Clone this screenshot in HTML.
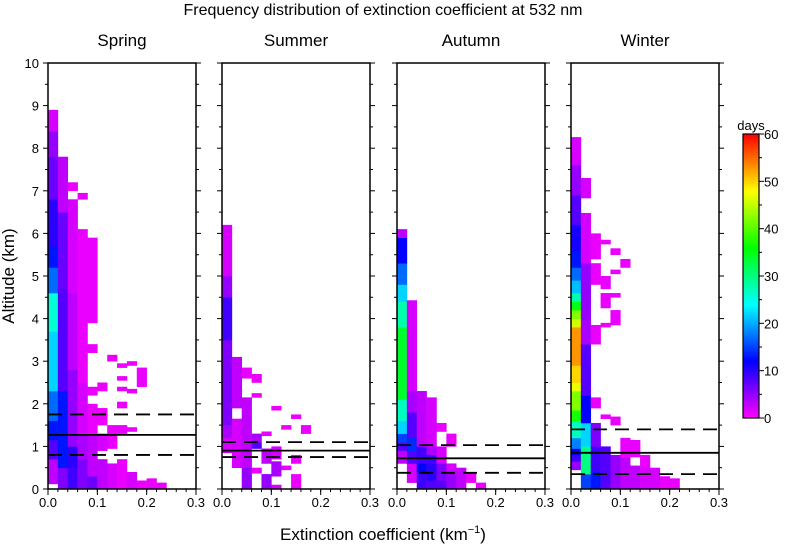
<!DOCTYPE html>
<html><head><meta charset="utf-8"><style>
body{margin:0;background:#fff;}
svg{display:block;font-family:"Liberation Sans",sans-serif;}
</style></head><body>
<svg id="chart" width="785" height="545" viewBox="0 0 785 545" xmlns="http://www.w3.org/2000/svg">
<text x="383" y="15" text-anchor="middle" font-size="16">Frequency distribution of extinction coefficient at 532 nm</text>
<text x="383" y="540" text-anchor="middle" font-size="17">Extinction coefficient (km<tspan dy="-7" font-size="11">−1</tspan><tspan dy="7">)</tspan></text>
<text transform="translate(14,276) rotate(-90)" text-anchor="middle" font-size="17">Altitude (km)</text>
<g id="panels"></g>
<g id="cbar"></g>
</svg>
<script>
const seasons=["Spring","Summer","Autumn","Winter"];
const xTicks=[0,0.1,0.2,0.3];
const yTicks=[0,1,2,3,4,5,6,7,8,9,10];
const cbTicks=[0,10,20,30,40,50,60];
const binW=0.02;
// per-season columns: [colIndex, zStart, zEnd, days]
const springCells=[
[0,0.12,0.7,3],[0,0.7,1.15,8],[0,1.15,1.6,13],[0,1.6,2.3,17],[0,2.3,3.7,22],[0,3.7,4.6,26],[0,4.6,5.2,17],[0,5.2,5.7,13],[0,5.7,6.8,10],[0,6.8,7.8,7],[0,7.8,8.4,5],[0,8.4,8.9,2],
[1,0,0.5,6],[1,0.5,2.3,13],[1,2.3,4.7,8],[1,4.7,6.5,7],[1,6.5,7.8,3],
[2,0,0.5,9],[2,0.5,1.0,10],[2,1.0,2.8,5],[2,2.8,4.6,3],[2,4.6,6.8,2],[2,7.0,7.2,1],
[3,0,0.7,6],[3,0.7,1.3,4],[3,1.3,2.5,2],[3,2.5,4.0,1],[3,4.0,6.1,1],[3,6.8,6.95,1],
[4,0,0.3,7],[4,0.3,0.7,3],[4,0.7,1.3,3],[4,1.3,2.0,1],[4,2.2,2.4,1],[4,3.2,3.4,1],[4,3.9,5.9,1],
[5,0,0.7,3],[5,0.9,1.3,2],[5,1.5,1.9,1],[5,2.3,2.5,1],
[6,0,0.6,2],[6,0.95,1.5,1],[6,3.0,3.15,1],
[7,0,0.7,1],[7,1.3,1.5,1],[7,1.9,2.05,1],[7,2.3,2.4,1],[7,2.55,2.65,1],[7,2.85,2.95,1],
[8,0,0.4,2],[8,1.35,1.45,1],[8,2.25,2.35,1],[8,2.9,3.0,1],
[9,0,0.2,1],[9,2.4,2.85,1],
[10,0,0.25,1],[11,0,0.15,1]];
const summerCells=[
[0,0.85,1.2,2],[0,1.2,1.5,4],[0,1.5,3.5,6],[0,3.5,4.5,9],[0,4.5,5.0,5],[0,5.0,6.2,2],
[1,0.5,1.65,2],[1,1.9,3.1,3],
[2,0,0.5,5],[2,0.5,2.15,3],[2,2.6,2.85,1],
[3,0.95,1.1,8],[3,1.1,1.3,4],[3,2.15,2.25,1],[3,2.5,2.7,1],[3,0.37,0.5,1],
[4,1.25,1.35,1],[4,0.6,0.95,3],[4,0,0.35,5],
[5,1.85,1.95,1],[5,0.7,1.0,2],[5,0.3,0.65,4],[5,0,0.1,2],
[6,1.4,1.5,1],[6,0.45,0.55,1],
[7,1.65,1.75,1],[7,0.6,0.8,1],[7,0,0.35,1],
[8,1.3,1.5,1]];
const autumnCells=[
[0,0.6,0.9,3],[0,0.9,1.1,8],[0,1.1,1.3,15],[0,1.3,1.6,22],[0,1.6,2.1,27],[0,2.1,3.8,34],[0,3.8,4.4,28],[0,4.4,4.8,22],[0,4.8,5.3,17],[0,5.3,5.9,12],[0,5.9,6.1,3],
[1,0.15,0.6,2],[1,0.6,0.9,8],[1,0.9,1.2,14],[1,1.2,1.8,8],[1,1.8,2.3,4],[1,2.3,4.43,2],
[2,0,0.4,9],[2,0.4,0.6,12],[2,0.6,1.0,9],[2,1.0,2.3,3],
[3,0,0.2,8],[3,0.2,0.6,10],[3,0.6,0.8,9],[3,0.8,1.0,4],[3,1.0,2.15,2],
[4,0,0.2,8],[4,0.2,0.6,6],[4,0.6,1.0,2],[4,1.35,1.55,1],
[5,0,0.37,5],[5,0.37,0.6,2],[5,1.0,1.3,1],
[6,0,0.5,3],[7,0.15,0.37,1],[8,0,0.15,1]];
const winterCells=[
[0,0.45,0.65,5],[0,0.65,0.8,9],[0,0.8,0.95,12],[0,0.95,1.2,18],[0,1.2,1.6,27],[0,1.6,1.85,37],[0,1.85,2.3,42],[0,2.3,2.5,47],[0,2.5,2.9,50],[0,2.9,3.8,53],[0,3.8,4.0,46],[0,4.0,4.2,42],[0,4.2,4.4,35],[0,4.4,4.6,28],[0,4.6,4.9,21],[0,4.9,5.2,17],[0,5.2,5.6,13],[0,5.6,6.2,11],[0,6.2,6.9,8],[0,6.9,7.6,5],[0,7.6,8.26,2],
[1,0,0.35,15],[1,0.35,1.0,30],[1,1.0,1.55,22],[1,1.55,2.2,12],[1,2.2,3.4,8],[1,3.4,3.97,4],[1,3.97,5.3,5],[1,5.3,6.48,2],[1,6.83,7.3,2],
[2,0,0.4,13],[2,0.4,1.0,9],[2,1.0,1.55,6],[2,1.9,2.15,1],[2,3.4,3.85,1],[2,4.8,5.3,1],[2,5.4,5.7,1],[2,5.7,6.0,1],
[3,0,1.0,8],[3,1.65,1.75,1],[3,3.8,3.9,1],[3,4.25,4.6,1],[3,4.7,5.0,1],[3,5.75,5.85,1],
[4,0,0.8,5],[4,1.5,1.7,1],[4,3.85,4.2,1],[4,4.5,4.6,1],[4,5.05,5.15,1],[4,5.5,5.65,1],
[5,0,0.8,3],[5,0.75,1.2,1],[5,5.2,5.4,1],
[6,0,0.55,3],[6,0.75,1.15,1],
[7,0,0.5,2],[7,0.5,0.8,1],
[8,0,0.5,2],[9,0,0.3,1],[10,0,0.25,1]];
const allCells=[springCells,summerCells,autumnCells,winterCells];
const solidLines=[1.27,0.9,0.72,0.85];
const dashHigh=[1.75,1.1,1.03,1.4];
const dashLow=[0.8,0.75,0.38,0.35];

const NS="http://www.w3.org/2000/svg";
const panelX=[48,222,397,571], PW=148, PT=63, PB=489;
function ys(z){return PB-(z/10)*(PB-PT);}
function color(v){return "hsl("+Math.max(0,300-5*v)+",100%,50%)";}
function mk(tag,attrs,parent){const e=document.createElementNS(NS,tag);for(const k in attrs)e.setAttribute(k,attrs[k]);parent.appendChild(e);return e;}
const root=document.getElementById("panels");
seasons.forEach((s,i)=>{
  const x0=panelX[i];
  const xs=v=>x0+(v/0.3)*PW;
  const g=mk("g",{},root);
  
  
  const t=mk("text",{x:x0+PW/2,y:46,"text-anchor":"middle","font-size":17},g);
  t.textContent=s;
  
  
  allCells[i].forEach(c=>{
    const r=mk("rect",{x:xs(c[0]*binW),y:ys(c[2]),width:xs((c[0]+1)*binW)-xs(c[0]*binW)+0.3,height:ys(c[1])-ys(c[2])+0.3,fill:color(c[3])},g);
    
    
  });
  [[dashHigh[i],"14,8"],[solidLines[i],null],[dashLow[i],"14,8"]].forEach(([z,d])=>{
    const l=mk("line",{x1:x0,x2:x0+PW,y1:ys(z),y2:ys(z),stroke:"#000","stroke-width":1.8},g);
    if(d)l.setAttribute("stroke-dasharray",d);
    
    
  });
  const f=mk("rect",{x:x0,y:PT,width:PW,height:PB-PT,fill:"none",stroke:"#000","stroke-width":1.5},g);
  
  
  for(let z=0;z<=10.001;z+=0.5){
    const y=ys(z), len=(Math.abs(z-Math.round(z))<0.01)?5:3;
    mk("line",{x1:x0-len,x2:x0,y1:y,y2:y,stroke:"#000"},g);
    mk("line",{x1:x0+PW,x2:x0+PW+len,y1:y,y2:y,stroke:"#000"},g);
  }
  for(let v=0;v<=0.3001;v+=0.02){
    const x=xs(v);
    mk("line",{x1:x,x2:x,y1:PB,y2:PB+3,stroke:"#000"},g);
  }
  xTicks.forEach(v=>{
    mk("line",{x1:xs(v),x2:xs(v),y1:PB,y2:PB+6,stroke:"#000"},g);
    const tt=mk("text",{x:xs(v),y:PB+18,"text-anchor":"middle","font-size":13},g);
    tt.textContent=v.toFixed(1);
    
    
  });
  if(i===0){
    yTicks.forEach(z=>{
      const tt=mk("text",{x:x0-9,y:ys(z)+5,"text-anchor":"end","font-size":13},g);
      tt.textContent=z;
      
      
    });
  }
});
// colorbar
const cb=document.getElementById("cbar");


const cbX=743,cbW=16,cbT=134,cbB=418;
const cbs=v=>cbB-(v/60)*(cbB-cbT);
for(let v=0;v<60;v+=0.5){
  mk("rect",{x:cbX,y:cbs(v+0.5),width:cbW,height:cbs(v)-cbs(v+0.5)+0.4,fill:color(v+0.25)},cb);
}
mk("rect",{x:cbX,y:cbT,width:cbW,height:cbB-cbT,fill:"none",stroke:"#000","stroke-width":1.2},cb);
for(let v=0;v<=60;v+=5){
  mk("line",{x1:cbX+cbW,x2:cbX+cbW+(v%10===0?5:3),y1:cbs(v),y2:cbs(v),stroke:"#000"},cb);
}
cbTicks.forEach(v=>{
  const tt=mk("text",{x:cbX+cbW+5,y:cbs(v)+5,"font-size":13},cb);
  tt.textContent=v;
  
  
});
const dl=mk("text",{x:751,y:130,"text-anchor":"middle","font-size":13},cb);
dl.textContent="days";


</script>
</body></html>
